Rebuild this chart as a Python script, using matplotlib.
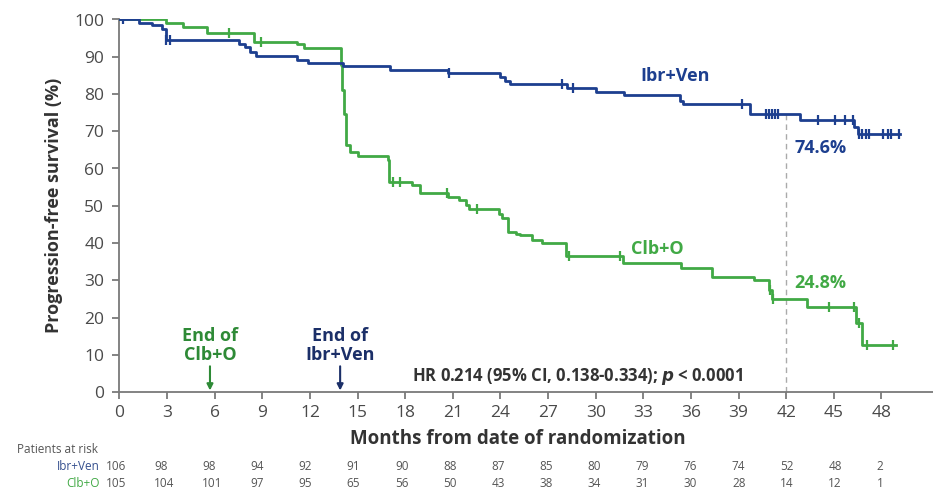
import matplotlib.pyplot as plt
import numpy as np

plt.rcParams['font.family'] = ['Open Sans', 'DejaVu Sans']

# Kaplan-Meier steps (months, % progression-free)
ibr_t = [0, 1.2, 2.05, 2.7, 2.9, 7.5, 7.9, 8.2, 8.6, 11.2, 11.9, 14.1, 17.05, 20.7,
         24.0, 24.3, 24.6, 28.2, 30.0, 31.8, 35.3, 35.5, 39.7, 42.9, 46.3, 46.5, 49.2]
ibr_s = [100, 99.1, 98.4, 97.5, 94.4, 93.5, 92.6, 91.2, 90.3, 89.2, 88.4, 87.5, 86.5, 85.6,
         84.6, 83.6, 82.6, 81.7, 80.6, 79.6, 78.0, 77.4, 74.7, 73.0, 71.1, 69.3, 69.3]
ibr_cens = [0.25, 2.95, 3.15, 20.75, 27.9, 28.6, 39.2, 40.7, 40.9, 41.1, 41.3, 41.5,
            44.0, 45.1, 45.7, 46.2, 46.6, 46.8, 47.0, 47.2, 48.1, 48.4, 48.6, 49.1]

clb_t = [0, 2.9, 4.0, 5.5, 8.5, 11.2, 11.6, 13.95, 14.0, 14.15, 14.3, 14.5, 15.0, 16.9,
         17.0, 18.4, 18.9, 20.7, 21.4, 21.8, 22.0, 23.9, 24.1, 24.5, 25.0, 25.2, 26.0,
         26.6, 28.1, 31.7, 35.4, 37.3, 40.0, 40.9, 41.1, 43.3, 46.4, 46.8, 48.9]
clb_s = [100, 99.0, 97.9, 96.3, 94.0, 93.3, 92.3, 87.7, 81.0, 74.7, 66.2, 64.4, 63.3, 62.2,
         56.4, 55.5, 53.4, 52.4, 51.5, 50.1, 49.1, 47.9, 46.6, 43.0, 42.5, 42.1, 40.9,
         40.0, 36.5, 34.5, 33.2, 31.0, 30.0, 27.3, 25.1, 22.9, 18.4, 12.6, 12.6]
clb_cens = [6.9, 8.9, 17.2, 17.7, 20.65, 22.5, 28.3, 31.5, 41.0, 41.15, 44.7, 46.3, 46.6,
            47.1, 48.7]

months = list(range(0, 49, 3))
risk_ibr = [106, 98, 98, 94, 92, 91, 90, 88, 87, 85, 80, 79, 76, 74, 52, 48, 2]
risk_clb = [105, 104, 101, 97, 95, 65, 56, 50, 43, 38, 34, 31, 30, 28, 14, 12, 1]

BLUE = '#1d3f8f'
GREEN = '#41a945'
DBLUE = '#1b2f68'
DGREEN = '#2e8a36'
AX = '#7a7a7a'


def level(t, s, x):
    i = np.searchsorted(t, x, side='right') - 1
    return np.array(s)[i]


fig = plt.figure(figsize=(9.33, 4.9), dpi=100)
ax = fig.add_axes([119.5 / 933, 1 - 392 / 490, 1 - 119.5 / 933, (392 - 19.5) / 490])

ax.step(clb_t, clb_s, where='post', color=GREEN, lw=2.0, zorder=3)
ax.step(ibr_t, ibr_s, where='post', color=BLUE, lw=2.0, zorder=4)
ax.plot(clb_cens, level(clb_t, clb_s, clb_cens), ls='none', marker='|', ms=7, mew=1.6,
        color=GREEN, zorder=3)
ax.plot(ibr_cens, level(ibr_t, ibr_s, ibr_cens), ls='none', marker='|', ms=7, mew=1.6,
        color=BLUE, zorder=4)

ax.plot([42, 42], [0, level(ibr_t, ibr_s, [42])[0]], ls=(0, (4, 3)), color='#aaaaaa', lw=1)

ax.set_xlim(0, 51.25)
ax.set_ylim(0, 100)
ax.set_xticks(months)
ax.set_yticks(range(0, 101, 10))
for sp in ['top', 'right']:
    ax.spines[sp].set_visible(False)
for sp in ['left', 'bottom']:
    ax.spines[sp].set_color(AX)
    ax.spines[sp].set_linewidth(1.3)
ax.tick_params(colors=AX, length=5, width=1.3, labelsize=12.5, labelcolor='#4a4a4a')
ax.tick_params(axis='y', pad=6)
ax.tick_params(axis='x', pad=4)
ax.set_ylabel('Progression-free survival (%)', fontsize=13, fontweight='bold',
              color='#333333', labelpad=8)
ax.set_xlabel('Months from date of randomization', fontsize=13.5, fontweight='bold',
              color='#333333', labelpad=4)
ax.xaxis.set_label_coords(0.49, -0.1)

# curve labels
ax.text(32.8, 84.8, 'Ibr+Ven', color=BLUE, fontsize=13, fontweight='bold', ha='left', va='center')
ax.text(42.5, 65.4, '74.6%', color=BLUE, fontsize=13, fontweight='bold', ha='left', va='center')
ax.text(32.2, 38.5, 'Clb+O', color=GREEN, fontsize=13, fontweight='bold', ha='left', va='center')
ax.text(42.5, 29.2, '24.8%', color=GREEN, fontsize=13, fontweight='bold', ha='left', va='center')

# treatment ends
for x, lab, col in [(5.7, 'End of\nClb+O', DGREEN), (13.9, 'End of\nIbr+Ven', DBLUE)]:
    ax.text(x, 7.6, lab, ha='center', va='bottom', color=col, fontsize=13,
            fontweight='bold', linespacing=1.05)
    ax.annotate('', xy=(x, 0.4), xytext=(x, 6.9),
                arrowprops=dict(arrowstyle='-|>', color=col, lw=1.5, mutation_scale=9,
                                shrinkA=0, shrinkB=0))

ax.text(18.45, 4.2, 'HR 0.214 (95% CI, 0.138-0.334); $\\mathbfit{p}$ < 0.0001', fontsize=12,
        fontweight='bold', color='#333333', ha='left', va='center')

# patients at risk table
fig.text(17 / 933, 1 - 449 / 490, 'Patients at risk', fontsize=8.5, color='#555555', va='center')
fig.text(100 / 933, 1 - 466 / 490, 'Ibr+Ven', fontsize=8.5, color='#35508f', ha='right', va='center')
fig.text(100 / 933, 1 - 483 / 490, 'Clb+O', fontsize=8.5, color=GREEN, ha='right', va='center')
for m, a, b in zip(months, risk_ibr, risk_clb):
    x = (106 + m * 16.05) / 933
    fig.text(x, 1 - 466 / 490, str(a), fontsize=8.5, color='#555555', ha='left', va='center')
    fig.text(x, 1 - 483 / 490, str(b), fontsize=8.5, color='#555555', ha='left', va='center')

fig.savefig('out.png', dpi=100)
